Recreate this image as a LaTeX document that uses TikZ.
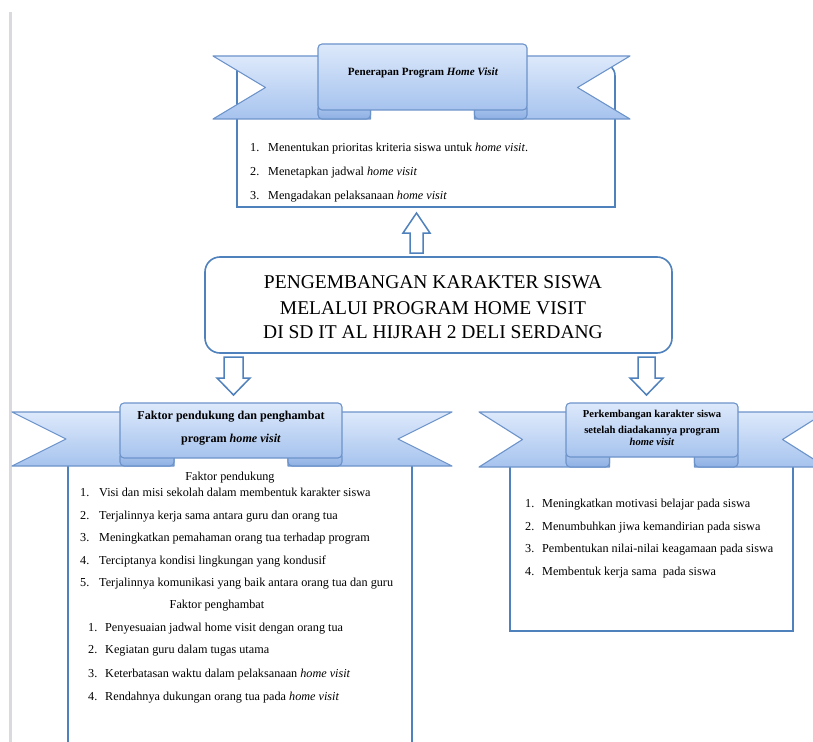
\documentclass[tikz,border=0pt]{standalone}
\usepackage{fontspec}
\setmainfont{Liberation Serif}
\definecolor{bord}{HTML}{4F81BD}
\definecolor{ribtop}{HTML}{DDE9FB}
\definecolor{ribbot}{HTML}{A6C3EE}
\definecolor{ribline}{HTML}{6C93CA}
\definecolor{foldtop}{HTML}{AFC8EE}
\definecolor{foldbot}{HTML}{8EB0E4}
\definecolor{margin}{HTML}{D9D9DE}
\tikzset{
  rib/.style={draw=ribline, line width=1.1pt, top color=ribtop, bottom color=ribbot, line join=round},
  foldsty/.style={draw=ribline, line width=1.1pt, top color=foldtop, bottom color=foldbot},
  boxsty/.style={draw=bord, line width=1.6pt, fill=white},
  blockarrow/.style={draw=bord, line width=1.5pt, fill=white, line join=miter},
  mainbox/.style={draw=bord, line width=1.6pt, fill=white, rounded corners=15pt, minimum width=467pt, minimum height=96pt, inner sep=0pt},
  maintxt/.style={anchor=base, inner sep=0pt, font=\fontsize{19.5}{22}\selectfont},
  itmB/.style={anchor=base west, inner sep=0pt, font=\fontsize{12.2}{14}\selectfont},
  headB/.style={anchor=base, inner sep=0pt, font=\fontsize{12.2}{14}\selectfont},
  ttl/.style={anchor=base, inner sep=0pt, font=\bfseries\fontsize{#1}{#1}\selectfont},
}
\newcommand\myribbon[8]{%
  \pgfmathsetmacro\rnd{(#3-#1)/2}%
  \pgfmathsetmacro\rnL{#1+\rnd}%
  \pgfmathsetmacro\rnR{#2-\rnd}%
  \pgfmathsetmacro\rwm{(#6+#8)/2}%
  \pgfmathsetmacro\rfL{#3+\rnd}%
  \pgfmathsetmacro\rfR{#4-\rnd}%
  \draw[rib] (#1,#6) -- (\rfL,#6) -- (\rfL,#8) -- (#1,#8) -- (\rnL,\rwm) -- cycle;
  \draw[rib] (#2,#6) -- (\rfR,#6) -- (\rfR,#8) -- (#2,#8) -- (\rnR,\rwm) -- cycle;
  \draw[foldsty, rounded corners=4pt] (#3,#7-6) rectangle (\rfL,#8);
  \draw[foldsty, rounded corners=4pt] (\rfR,#7-6) rectangle (#4,#8);
  \draw[rib, rounded corners=4pt] (#3,#7) -- (#3,#5) -- (#4,#5) -- (#4,#7) -- cycle;
}
\begin{document}
\begin{tikzpicture}[x=1pt,y=-1pt]
\clip (0,0) rectangle (813,741);
\fill[white] (0,0) rectangle (813,741);
% page margin line
\draw[margin, line width=3pt] (10,12) -- (10,745);

% boxes
\draw[boxsty] (237,207) -- (237,62) {[rounded corners=14pt] -- (615,62) -- (615,120)} -- (615,207) -- cycle;
\draw[boxsty] (68,455) rectangle (412,760);
\draw[boxsty] (510,455) rectangle (793,631);

% ribbons: L R cl cr pt wt pb wb
\myribbon{213}{630}{318}{527}{44}{56}{110}{119}
\myribbon{12}{452}{120}{342}{403}{412}{458}{466}
\myribbon{479}{826}{566}{738}{403}{412}{457}{467}

% main box
\node[mainbox] (main) at (438.5,305) {};
\node[maintxt] (m1) at (433,288) {PENGEMBANGAN KARAKTER SISWA};
\node[maintxt] (m2) at (433,314) {MELALUI PROGRAM HOME VISIT};
\node[maintxt] (m3) at (433,338) {DI SD IT AL HIJRAH 2 DELI SERDANG};

% block arrows
\coordinate (upA) at (416.5,213);
\draw[blockarrow] (410,253) -- (410,233) -- (403,233) -- (upA) -- (430,233) -- (423,233) -- (423,253) -- cycle;
\coordinate (dnL) at (233.5,395);
\draw[blockarrow] (224,357) -- (243,357) -- (243,378) -- (250,378) -- (dnL) -- (217,378) -- (224,378) -- cycle;
\coordinate (dnR) at (646.5,395);
\draw[blockarrow] (638,357) -- (655,357) -- (655,378) -- (663,378) -- (dnR) -- (630,378) -- (638,378) -- cycle;

% ribbon titles
\node[ttl=11.1] (t1) at (423,76) {Penerapan Program \textit{Home Visit}};
\node[ttl=12.1] (t2a) at (231,419) {Faktor pendukung dan penghambat};
\node[ttl=12.1] (t2b) at (231,442) {program \textit{home visit}};
\node[ttl=10.6] (t3a) at (652,417) {Perkembangan karakter siswa};
\node[ttl=10.6] (t3b) at (652,433) {setelah diadakannya program};
\node[ttl=10.6] (t3c) at (652,445) {\textit{home visit}};

% top box items
\node[itmB] (a1n) at (250,151) {1.};
\node[itmB] (a1) at (268,151) {Menentukan prioritas kriteria siswa untuk \textit{home visit}.};
\node[itmB] (a2n) at (250,175) {2.};
\node[itmB] (a2) at (268,175) {Menetapkan jadwal \textit{home visit}};
\node[itmB] (a3n) at (250,199) {3.};
\node[itmB] (a3) at (268,199) {Mengadakan pelaksanaan \textit{home visit}};

% left box
\node[headB] (hp) at (230,480) {Faktor pendukung};
\node[itmB] (b1n) at (80,496) {1.};
\node[itmB] (b1) at (99,496) {Visi dan misi sekolah dalam membentuk karakter siswa};
\node[itmB] (b2n) at (80,519) {2.};
\node[itmB] (b2) at (99,519) {Terjalinnya kerja sama antara guru dan orang tua};
\node[itmB] (b3n) at (80,541) {3.};
\node[itmB] (b3) at (99,541) {Meningkatkan pemahaman orang tua terhadap program};
\node[itmB] (b4n) at (80,564) {4.};
\node[itmB] (b4) at (99,564) {Terciptanya kondisi lingkungan yang kondusif};
\node[itmB] (b5n) at (80,586) {5.};
\node[itmB] (b5) at (99,586) {Terjalinnya komunikasi yang baik antara orang tua dan guru};
\node[headB] (hh) at (217,608) {Faktor penghambat};
\node[itmB] (c1n) at (88,631) {1.};
\node[itmB] (c1) at (105,631) {Penyesuaian jadwal home visit dengan orang tua};
\node[itmB] (c2n) at (88,653) {2.};
\node[itmB] (c2) at (105,653) {Kegiatan guru dalam tugas utama};
\node[itmB] (c3n) at (88,677) {3.};
\node[itmB] (c3) at (105,677) {Keterbatasan waktu dalam pelaksanaan \textit{home visit}};
\node[itmB] (c4n) at (88,700) {4.};
\node[itmB] (c4) at (105,700) {Rendahnya dukungan orang tua pada \textit{home visit}};

% right box
\node[itmB] (d1n) at (525,507) {1.};
\node[itmB] (d1) at (542,507) {Meningkatkan motivasi belajar pada siswa};
\node[itmB] (d2n) at (525,530) {2.};
\node[itmB] (d2) at (542,530) {Menumbuhkan jiwa kemandirian pada siswa};
\node[itmB] (d3n) at (525,552) {3.};
\node[itmB] (d3) at (542,552) {Pembentukan nilai-nilai keagamaan pada siswa};
\node[itmB] (d4n) at (525,575) {4.};
\node[itmB] (d4) at (542,575) {Membentuk kerja sama\ \ pada siswa};
\end{tikzpicture}
\end{document}
